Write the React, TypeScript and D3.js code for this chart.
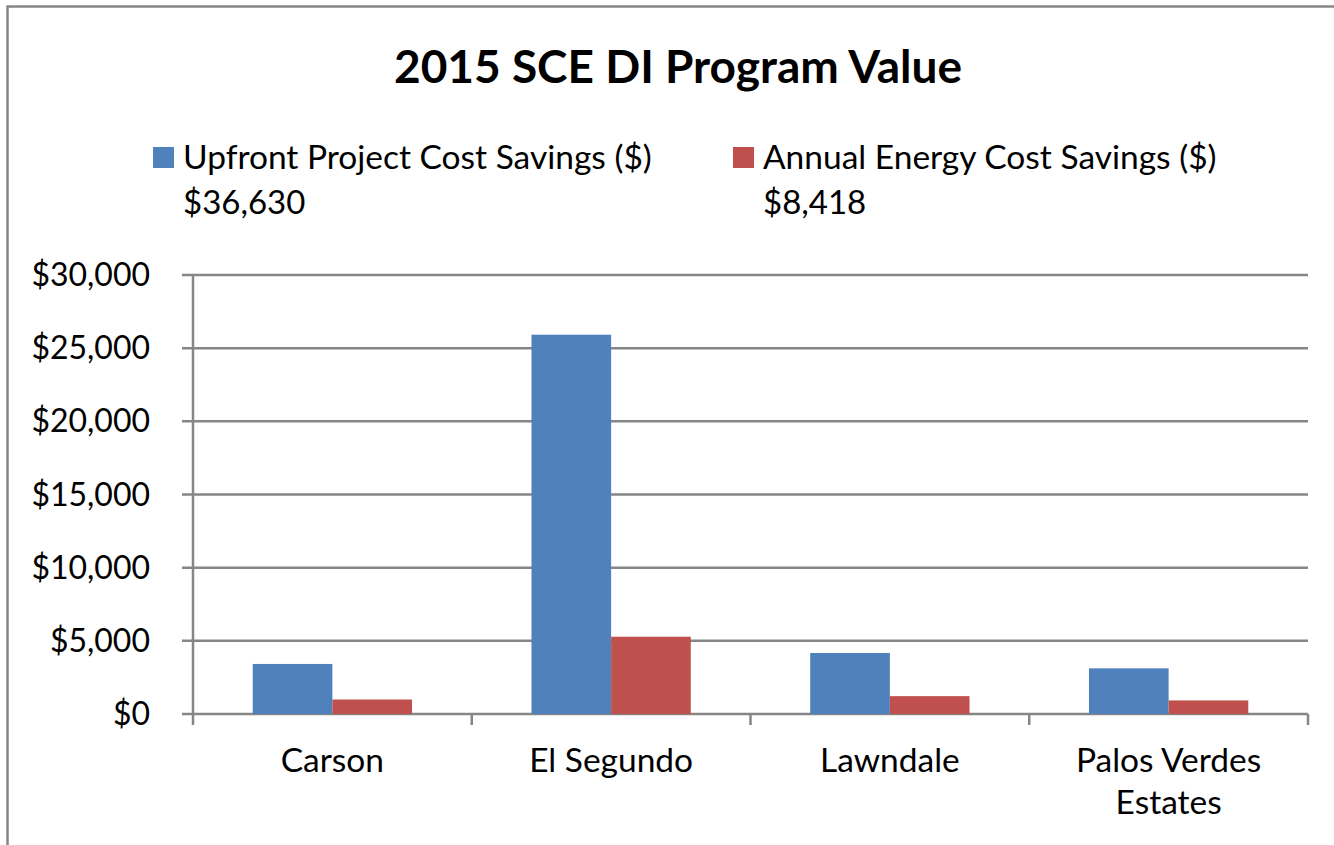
import React from "react";
import * as d3 from "d3";

const categories = ["Carson", "El Segundo", "Lawndale", "Palos Verdes Estates"];
const categoryLines = [["Carson"], ["El Segundo"], ["Lawndale"], ["Palos Verdes", "Estates"]];
const seriesNames = ["Upfront Project Cost Savings ($)", "Annual Energy Cost Savings ($)"];
const seriesTotals = ["$36,630", "$8,418"];
const upfront = [3420, 25920, 4170, 3120];
const annual = [990, 5280, 1220, 928];
const yTicks = [0, 5000, 10000, 15000, 20000, 25000, 30000];
const colors = ["#4F81BD", "#C0504D"];

const W = 1334;
const H = 845;
const FONT = "Lato, 'Open Sans', sans-serif";

export default function App() {
  const left = 193, right = 1308, top = 275, bottom = 714;
  const x0 = d3.scaleBand<string>().domain(categories).range([left, right]).paddingInner(0).paddingOuter(0);
  const bw = x0.bandwidth();
  const barW = bw / 3.5;
  const y = d3.scaleLinear().domain([0, 30000]).range([bottom, top]);
  const fmt = (v: number) => "$" + d3.format(",")(v);
  const series = [upfront, annual];
  const grid = "#868686";

  return (
    <svg width={W} height={H} style={{ position: "absolute", left: 0, top: 0, background: "#fff" }}>
      <rect x={0} y={0} width={W} height={H} fill="#fff" />
      <rect x={7.5} y={6.5} width={W + 20} height={H + 20} fill="none" stroke={grid} strokeWidth={2.5} />
      <text x={678} y={83} textAnchor="middle" fontFamily={FONT} fontWeight="bold" fontSize={46} fill="#000">
        2015 SCE DI Program Value
      </text>
      {/* legend */}
      {[0, 1].map((i) => {
        const lx = i === 0 ? 153 : 733;
        return (
          <g key={i}>
            <rect x={lx} y={147} width={21} height={21} fill={colors[i]} />
            <text x={lx + 30} y={169} fontFamily={FONT} fontSize={33.5} fill="#000">{seriesNames[i]}</text>
            <text x={lx + 30} y={214} fontFamily={FONT} fontSize={33} fill="#000">{seriesTotals[i]}</text>
          </g>
        );
      })}
      {/* gridlines */}
      {yTicks.map((t) => (
        <g key={t}>
          <line x1={182} x2={right} y1={y(t)} y2={y(t)} stroke={grid} strokeWidth={2.5} />
          <text x={150} y={y(t) + 11} textAnchor="end" fontFamily={FONT} fontSize={32} fill="#000">{fmt(t)}</text>
        </g>
      ))}
      <line x1={left} x2={left} y1={top} y2={bottom + 11} stroke={grid} strokeWidth={2.5} />
      {categories.map((c, i) => (
        <line key={c} x1={(x0(c) as number) + bw} x2={(x0(c) as number) + bw} y1={bottom} y2={bottom + 11} stroke={grid} strokeWidth={2.5} />
      ))}
      {/* bars */}
      {categories.map((c, i) => (
        <g key={c}>
          {series.map((s, k) => {
            const bx = (x0(c) as number) + barW * 0.75 + k * barW;
            return <rect key={k} x={bx} y={y(s[i])} width={barW} height={bottom - y(s[i])} fill={colors[k]} />;
          })}
          {categoryLines[i].map((ln, j) => (
            <text key={j} x={(x0(c) as number) + bw / 2} y={772 + j * 42} textAnchor="middle" fontFamily={FONT} fontSize={33.5} fill="#000">{ln}</text>
          ))}
        </g>
      ))}
    </svg>
  );
}
